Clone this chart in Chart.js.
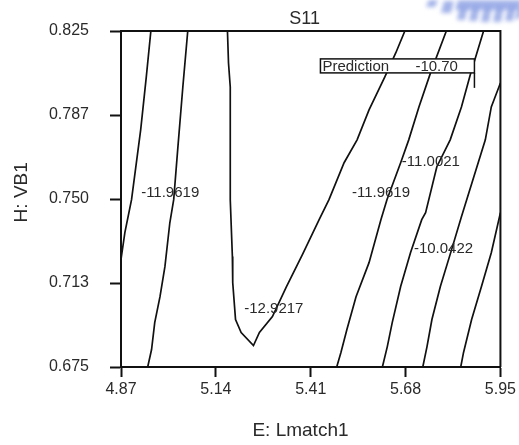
<!DOCTYPE html>
<html>
<head>
<meta charset="utf-8">
<script src="https://cdn.jsdelivr.net/npm/chart.js@4.4.1/dist/chart.umd.min.js"></script>
<style>
  html, body { margin: 0; padding: 0; background: #fff; }
  #wrap { width: 519px; height: 445px; position: relative; }
</style>
</head>
<body>
<div id="wrap"><canvas id="s11"></canvas></div>
<script>
// axis ticks
const xTicks = [4.87, 5.14, 5.41, 5.68, 5.95];
const yTicks = [0.675, 0.7125, 0.75, 0.7875, 0.825];
const yTickLabels = ['0.675', '0.713', '0.750', '0.787', '0.825'];

// contour traces (E: Lmatch1 vs H: VB1)
const contourAx = [4.955, 4.942, 4.926, 4.900, 4.881, 4.870];
const contourAy = [0.825, 0.8045, 0.7809, 0.7497, 0.7350, 0.7230];

const contourBx = [5.060, 5.046, 5.032, 5.020, 5.009, 4.995, 4.981, 4.966, 4.957, 4.946];
const contourBy = [0.825, 0.800, 0.7733, 0.7497, 0.7394, 0.7198, 0.7064, 0.6948, 0.6828, 0.675];

const contourVx = [5.173, 5.176, 5.181, 5.181, 5.187, 5.188, 5.196, 5.212, 5.247, 5.264, 5.301,
                   5.341, 5.386, 5.434, 5.462, 5.505, 5.542, 5.576, 5.621, 5.652, 5.678];
const contourVy = [0.825, 0.8107, 0.800, 0.7497, 0.7243, 0.7127, 0.6962, 0.6904, 0.6846, 0.6904, 0.6975,
                   0.7109, 0.7251, 0.7408, 0.7497, 0.7662, 0.7764, 0.7898, 0.8045, 0.8152, 0.825];

const contourDx = [5.796, 5.751, 5.718, 5.689, 5.666, 5.627, 5.610, 5.576, 5.539, 5.513, 5.496, 5.484];
const contourDy = [0.825, 0.8063, 0.7911, 0.7764, 0.7662, 0.7497, 0.7408, 0.7216, 0.7064, 0.6917, 0.6815, 0.675];

const contourEx = [5.902, 5.864, 5.839, 5.807, 5.769, 5.737, 5.726, 5.694, 5.666, 5.642, 5.628, 5.614];
const contourEy = [0.825, 0.8054, 0.7911, 0.7764, 0.7644, 0.7439, 0.7408, 0.7260, 0.7109, 0.6948, 0.6841, 0.675];

const contourFx = [5.95, 5.924, 5.907, 5.854, 5.839, 5.811, 5.779, 5.755, 5.741, 5.729];
const contourFy = [0.8018, 0.7911, 0.7764, 0.7497, 0.7421, 0.7274, 0.7109, 0.6962, 0.6841, 0.675];

const contourGx = [5.95, 5.924, 5.896, 5.868, 5.845, 5.837];
const contourGy = [0.7439, 0.7260, 0.7109, 0.6962, 0.6815, 0.675];

// contour level labels
const levelText = ['-11.9619', '-11.9619', '-11.0021', '-10.0422', '-12.9217'];
const levelX = [5.010, 5.610, 5.752, 5.788, 5.305];
const levelY = [0.7529, 0.7529, 0.7667, 0.7278, 0.7009];

// prediction flag
const predX = 5.876;
const predY = 0.7996;
const predName = 'Prediction';
const predValue = '-10.70';

const FONT = '"Liberation Sans", Arial, sans-serif';
const INK = '#111';
const TEXT = '#2a2a2a';

function trace(xs, ys) {
  return {
    data: xs.map((x, i) => ({ x: x, y: ys[i] })),
    showLine: true,
    pointRadius: 0,
    borderColor: INK,
    borderWidth: 1.7,
    tension: 0,
    fill: false
  };
}

// top/right frame plus the plot title and axis names
const frame = {
  id: 'frame',
  afterDraw(chart) {
    const { ctx, chartArea: a } = chart;
    ctx.save();
    ctx.strokeStyle = INK;
    ctx.lineWidth = 2;
    ctx.beginPath();
    ctx.moveTo(a.left, a.top);
    ctx.lineTo(a.right, a.top);
    ctx.lineTo(a.right, a.bottom);
    ctx.stroke();

    ctx.fillStyle = TEXT;
    ctx.textAlign = 'center';
    ctx.textBaseline = 'middle';
    ctx.font = '18px ' + FONT;
    ctx.fillText('S11', a.left + (a.right - a.left) * 0.484, 19);
    ctx.font = '19px ' + FONT;
    ctx.fillText('E: Lmatch1', a.left + (a.right - a.left) * 0.473, 431);
    ctx.translate(22, a.top + (a.bottom - a.top) * 0.48);
    ctx.rotate(-Math.PI / 2);
    ctx.fillText('H: VB1', 0, 0);
    ctx.restore();
  }
};

const levels = {
  id: 'levels',
  afterDatasetsDraw(chart) {
    const { ctx, scales: { x, y } } = chart;
    ctx.save();
    ctx.font = '15px ' + FONT;
    ctx.fillStyle = TEXT;
    ctx.textAlign = 'center';
    ctx.textBaseline = 'middle';
    levelText.forEach((t, i) => {
      ctx.fillText(t, x.getPixelForValue(levelX[i]), y.getPixelForValue(levelY[i]));
    });
    ctx.restore();
  }
};

const prediction = {
  id: 'prediction',
  afterDatasetsDraw(chart) {
    const { ctx, scales: { x, y } } = chart;
    const px = x.getPixelForValue(predX);
    const py = y.getPixelForValue(predY);
    const boxW = 154, boxH = 14, pole = 15;
    const left = px - boxW, top = py - pole - boxH;
    ctx.save();
    ctx.fillStyle = '#fff';
    ctx.fillRect(left, top, boxW, boxH);
    ctx.strokeStyle = INK;
    ctx.lineWidth = 1.5;
    ctx.strokeRect(left, top, boxW, boxH);
    ctx.beginPath();
    ctx.moveTo(px, top + boxH);
    ctx.lineTo(px, py);
    ctx.stroke();
    ctx.font = '15px ' + FONT;
    ctx.fillStyle = TEXT;
    ctx.textBaseline = 'middle';
    ctx.textAlign = 'left';
    ctx.fillText(predName, left + 2, top + boxH / 2 + 1);
    ctx.fillText(predValue, left + 95, top + boxH / 2 + 1);
    ctx.restore();
  }
};

// faint blue logo fragment in the top corner
const stamp = {
  id: 'stamp',
  afterDraw(chart) {
    const ctx = chart.ctx;
    ctx.save();
    ctx.filter = 'blur(2px)';
    ctx.fillStyle = 'rgba(140,160,228,0.8)';
    const bars = [[426, 0, 9, 7], [441, 1, 10, 12], [455, 0, 64, 10],
                  [457, 6, 8, 14], [469, 6, 8, 15], [481, 6, 8, 16],
                  [493, 6, 8, 16], [505, 6, 8, 15], [515, 6, 5, 13]];
    bars.forEach(([bx, by, bw, bh]) => {
      ctx.beginPath();
      ctx.moveTo(bx + 3, by);
      ctx.lineTo(bx + bw + 3, by);
      ctx.lineTo(bx + bw, by + bh);
      ctx.lineTo(bx, by + bh);
      ctx.closePath();
      ctx.fill();
    });
    ctx.restore();
  }
};

new Chart(document.getElementById('s11'), {
  type: 'scatter',
  data: {
    datasets: [
      trace(contourAx, contourAy),
      trace(contourBx, contourBy),
      trace(contourVx, contourVy),
      trace(contourDx, contourDy),
      trace(contourEx, contourEy),
      trace(contourFx, contourFy),
      trace(contourGx, contourGy)
    ]
  },
  options: {
    responsive: true,
    maintainAspectRatio: false,
    animation: false,
    layout: { padding: { left: 0, right: 17, top: 31, bottom: 0 } },
    plugins: {
      legend: { display: false },
      tooltip: { enabled: false },
      title: { display: false }
    },
    scales: {
      x: {
        type: 'linear',
        min: 4.87,
        max: 5.95,
        afterBuildTicks: s => { s.ticks = xTicks.map(v => ({ value: v })); },
        afterFit: s => { s.height = 78; },
        ticks: {
          callback: v => v.toFixed(2),
          color: TEXT,
          font: { family: FONT, size: 16 },
          padding: 3,
          maxRotation: 0,
          autoSkip: false
        },
        grid: { drawOnChartArea: false, drawTicks: true, tickLength: 10, color: INK, tickColor: INK, tickWidth: 2 },
        border: { display: true, color: INK, width: 2 }
      },
      y: {
        type: 'linear',
        min: 0.675,
        max: 0.825,
        afterBuildTicks: s => { s.ticks = yTicks.map(v => ({ value: v })); },
        afterFit: s => { s.width = 121; },
        ticks: {
          callback: (v, i) => yTickLabels[i],
          color: TEXT,
          font: { family: FONT, size: 16 },
          padding: 21,
          autoSkip: false
        },
        grid: { drawOnChartArea: false, drawTicks: true, tickLength: 11, color: INK, tickColor: INK, tickWidth: 2 },
        border: { display: true, color: INK, width: 2 }
      }
    }
  },
  plugins: [frame, levels, prediction, stamp]
});
</script>
</body>
</html>
